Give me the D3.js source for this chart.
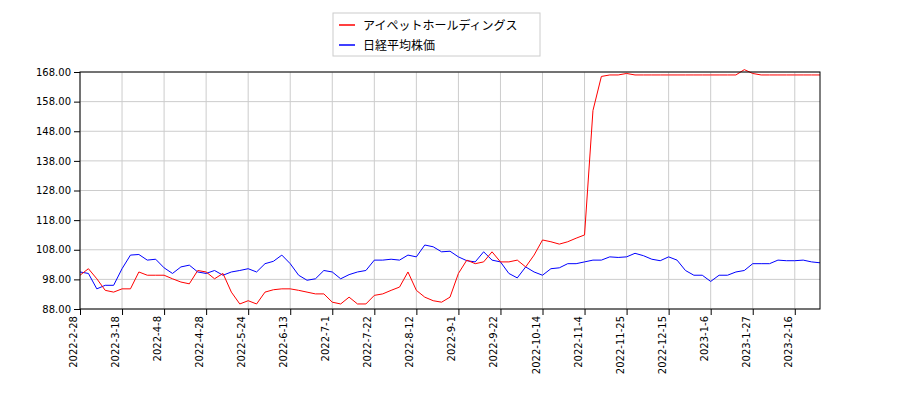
<!DOCTYPE html>
<html><head><meta charset="utf-8">
<script src="https://cdn.jsdelivr.net/npm/d3@7"></script>
<style>body{margin:0;background:#fff}</style></head>
<body><svg id="c" width="900" height="400"></svg>
<script>
const step = 3;
const tickLabels = ["2022-2-28","2022-3-18","2022-4-8","2022-4-28","2022-5-24","2022-6-13","2022-7-1","2022-7-22","2022-8-12","2022-9-1","2022-9-22","2022-10-14","2022-11-4","2022-11-25","2022-12-15","2023-1-6","2023-1-27","2023-2-16"];
const yTicks = [88,98,108,118,128,138,148,158,168];
const seriesNames = ["アイペットホールディングス","日経平均株価"];
const redValues = [99.4,101.6,98.2,94.3,93.7,94.8,94.8,100.5,99.4,99.4,99.4,98.2,97.1,96.5,101,100.5,98.2,100,93.7,89.7,90.8,89.7,93.7,94.5,94.8,94.8,94.3,93.7,93.1,93.1,90.3,89.7,92,89.7,89.7,92.6,93.1,94.3,95.4,100.5,94.3,92,90.8,90.3,92,100,
104.5,103.3,103.9,107.3,103.9,103.9,104.5,102.2,106.2,111.3,110.7,109.9,110.7,111.9,113,155,166.5,167,167,167.5,167,167,167,167,167,167,167,167,167,167,167,167,167,168.8,167.5,167,167,167,167,167,167,167,167];
const blueValues = [100.5,100,94.8,96,96,101.6,106.2,106.4,104.5,104.8,101.9,100,102.2,102.8,100.5,100,101,99.4,100.5,101,101.6,100.5,103.3,104.1,106.2,103.3,99.4,97.7,98.2,101,100.5,98.2,99.6,100.5,101,104.5,104.5,104.8,104.5,106.2,105.6,109.6,109,107.3,107.5,105.6,
104.3,103.9,107.3,104.5,103.9,100,98.5,102.2,100.5,99.4,101.6,101.9,103.3,103.3,103.9,104.5,104.5,105.6,105.4,105.6,106.8,106,104.8,104.3,105.6,104.5,101,99.4,99.4,97.3,99.4,99.4,100.5,101,103.3,103.3,103.3,104.5,104.3,104.3,104.5,103.9,103.6];

const svg = d3.select("#c");
const L=80,R=820,T=72,B=309;
const x = d3.scaleLinear().domain([0,264]).range([L,R]);
const y = d3.scaleLinear().domain([88,168]).range([B,T]);
const tickIdx = tickLabels.map((d,i)=>i*15);

const g = svg.append("g");
g.selectAll(".vg").data(tickIdx).join("line").attr("x1",d=>x(d)).attr("x2",d=>x(d)).attr("y1",T).attr("y2",B).attr("stroke","#cccccc");
g.selectAll(".hg").data(yTicks).join("line").attr("x1",L).attr("x2",R).attr("y1",d=>y(d)).attr("y2",d=>y(d)).attr("stroke","#cccccc");

const line = d3.line().x((d,i)=>x(i*step)).y(d=>y(d));
svg.append("path").datum(blueValues).attr("d",line).attr("fill","none").attr("stroke","#0000ff").attr("stroke-width",1);
svg.append("path").datum(redValues).attr("d",line).attr("fill","none").attr("stroke","#ff0000").attr("stroke-width",1);

svg.append("rect").attr("x",L).attr("y",T).attr("width",R-L).attr("height",B-T).attr("fill","none").attr("stroke","#000");

const xa = svg.append("g").attr("transform",`translate(0,${B})`)
  .call(d3.axisBottom(x).tickValues(tickIdx).tickFormat((d,i)=>tickLabels[i]).tickSizeOuter(0));
xa.selectAll("text").attr("transform","rotate(-90)").attr("text-anchor","end").attr("dx","-0.5em").attr("dy","-0.35em").attr("x",-2).attr("y",0);
const ya = svg.append("g").attr("transform",`translate(${L},0)`)
  .call(d3.axisLeft(y).tickValues(yTicks).tickFormat(d3.format(".2f")).tickSizeOuter(0));
svg.selectAll(".tick text").style("font-family","DejaVu Sans").style("font-size","10px").attr("fill","#000");
svg.selectAll(".domain").remove();

const lg = svg.append("g");
lg.append("rect").attr("x",333).attr("y",13).attr("width",207).attr("height",43).attr("fill","#fff").attr("stroke","#ccc");
seriesNames.forEach((n,i)=>{
  const yy = 25+i*20;
  lg.append("line").attr("x1",339).attr("x2",355).attr("y1",yy).attr("y2",yy).attr("stroke",i?"#0000ff":"#ff0000").attr("stroke-width",1.5);
  lg.append("text").attr("x",363).attr("y",yy+4.5).text(n).style("font-family","Noto Sans CJK JP").style("font-size","12px");
});
</script></body></html>
